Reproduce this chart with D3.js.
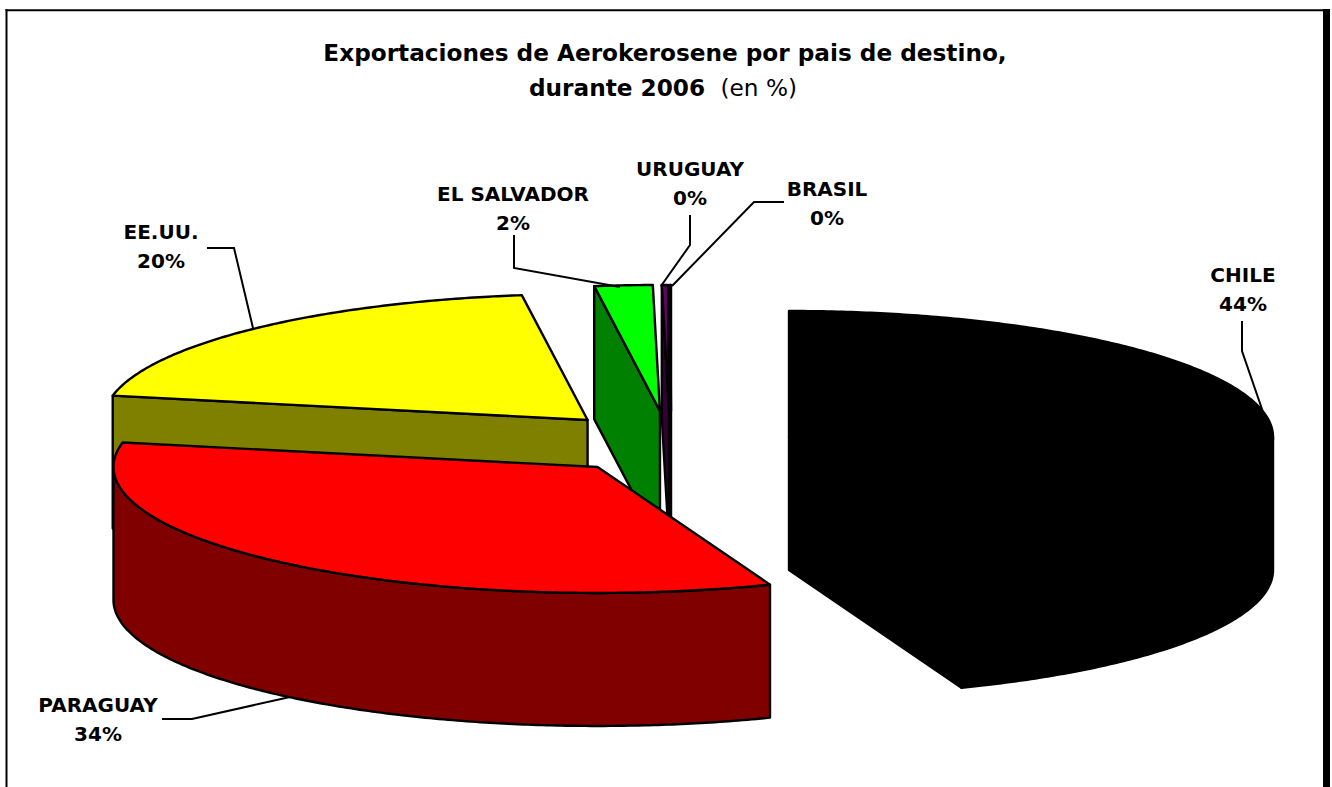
<!DOCTYPE html>
<html>
<head>
<meta charset="utf-8">
<script src="https://cdn.jsdelivr.net/npm/d3@7"></script>
<style>
html,body{margin:0;padding:0;background:#fff;overflow:hidden}
text{font-family:"DejaVu Sans",sans-serif;fill:#000}
</style>
</head>
<body>
<svg id="chart" width="1332" height="787"></svg>
<script>
// ---- data ----
const categories = ["CHILE","PARAGUAY","EE.UU.","EL SALVADOR","URUGUAY","BRASIL"];
const shares     = [44.2, 33.9, 19.73, 1.934, 0.203, 0.033];
const percentLabels = ["44%","34%","20%","2%","0%","0%"];
const titleLine1 = "Exportaciones de Aerokerosene por pais de destino,";
const titleLine2Bold = "durante 2006";
const titleLine2Normal = "(en %)";

// ---- styles / layout ----
const topColors  = ["#000000","#ff0000","#ffff00","#00ff00","#660066","#000000"];
const explodeX   = [0.2397,-0.156,-0.1765,-0.0269,-0.00826,-0.0041];
const explodeY   = [0.0476,-0.19,0.1825,0.254,0.254,0.254];
const paintOrder = [0,5,4,3,2,1];
const labelCentre = [[1243,282],[98,712],[161,239],[513,201],[690,176],[827,196]];
const leaders = [
  [[1242,321],[1242,351],[1263,412]],
  [[162,719],[192,719],[290,697]],
  [[207,248],[234,248],[253,328]],
  [[514,235],[514,268],[620,287]],
  [[690,215],[690,245],[661,286]],
  [[784,202],[754,202],[672,286]]
];

const svg = d3.select("#chart");
const x = d3.scaleLinear().domain([-1,1]).range([673-484,673+484]);
const y = d3.scaleLinear().domain([-1,1]).range([443+126,443-126]);
const depth = 133;

// frame
const frame = svg.append("g").attr("stroke","#000");
frame.append("line").attr("x1",6.5).attr("x2",6.5).attr("y1",9).attr("y2",787).attr("stroke-width",2);
frame.append("line").attr("x1",5.5).attr("x2",1330).attr("y1",10.3).attr("y2",10.3).attr("stroke-width",2);
frame.append("line").attr("x1",1326.5).attr("x2",1326.5).attr("y1",9).attr("y2",787).attr("stroke-width",7);

// pie geometry
const arcs = d3.pie().sort(null).value(d=>d)(shares);
const line = d3.line();
function pt(i,a,r,z){ // a: clockwise from 12 o'clock
  return [x(explodeX[i]+r*Math.sin(a)), y(explodeY[i]+r*Math.cos(a))+z];
}
function arcPts(i,a0,a1,z){
  const n = Math.max(2,Math.ceil((a1-a0)/0.01));
  return d3.range(n+1).map(k=>pt(i,a0+(a1-a0)*k/n,1,z));
}
const pieG = svg.append("g").attr("stroke","#000").attr("stroke-width",2.4).attr("stroke-linejoin","round");
function darken(c){ const r=d3.rgb(c); return d3.rgb(r.r/2,r.g/2,r.b/2).formatHex(); }

paintOrder.forEach(i=>{
  const a = arcs[i], g = pieG.append("g").attr("class","slice");
  const side = darken(topColors[i]);
  const face = ang => [pt(i,ang,0,0),pt(i,ang,1,0),pt(i,ang,1,depth),pt(i,ang,0,depth)];
  if (Math.sin(a.startAngle) < 0)
    g.append("path").attr("d",line(face(a.startAngle))+"Z").attr("fill",side);
  if (Math.sin(a.endAngle) > 0)
    g.append("path").attr("d",line(face(a.endAngle))+"Z").attr("fill",side);
  const r0 = Math.max(a.startAngle,Math.PI/2), r1 = Math.min(a.endAngle,Math.PI*1.5);
  if (r1 > r0){
    const up = arcPts(i,r0,r1,0), down = arcPts(i,r0,r1,depth).reverse();
    g.append("path").attr("d",line(up.concat(down))+"Z").attr("fill",side);
  }
  const topFace = [pt(i,0,0,0)].concat(arcPts(i,a.startAngle,a.endAngle,0));
  g.append("path").attr("d",line(topFace)+"Z").attr("fill",topColors[i]);
});

// leader lines
svg.append("g").selectAll("path").data(leaders).join("path")
  .attr("d",d=>line(d)).attr("fill","none").attr("stroke","#000").attr("stroke-width",2);

// labels
const lab = svg.append("g").attr("text-anchor","middle").attr("font-size",20).attr("font-weight",700);
categories.forEach((c,i)=>{
  const [cx,cy] = labelCentre[i];
  lab.append("text").attr("x",cx).attr("y",cy).text(c);
  lab.append("text").attr("x",cx).attr("y",cy+29).text(percentLabels[i]);
});

// title
svg.append("text").attr("x",665).attr("y",61).attr("text-anchor","middle")
  .attr("font-size",23.2).attr("font-weight",700).text(titleLine1);
const t2 = svg.append("text").attr("x",663).attr("y",96).attr("text-anchor","middle").attr("font-size",23.2);
t2.append("tspan").attr("font-weight",700).text(titleLine2Bold);
t2.append("tspan").attr("dx",8).text(" "+titleLine2Normal);
</script>
</body>
</html>
